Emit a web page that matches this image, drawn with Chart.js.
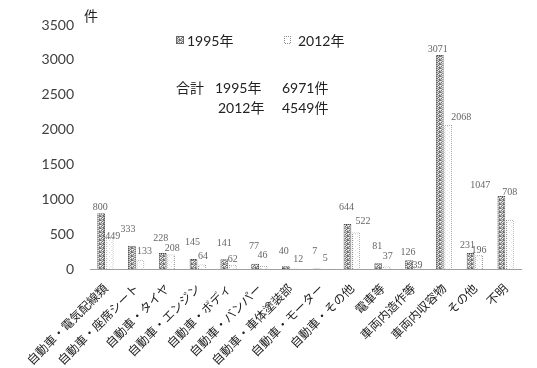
<!DOCTYPE html>
<html>
<head>
<meta charset="utf-8">
<script src="https://cdn.jsdelivr.net/npm/chart.js@4/dist/chart.umd.min.js"></script>
<style>
  html, body { margin: 0; padding: 0; background: #fff; }
  #wrap { width: 537px; height: 368px; }
</style>
</head>
<body>
<div id="wrap"><canvas id="c" width="537" height="368"></canvas></div>
<script>
// 件数（発火源別）
const categories = [
  '自動車・電気配線類', '自動車・座席シート', '自動車・タイヤ', '自動車・エンジン',
  '自動車・ボディ', '自動車・バンパー', '自動車・車体塗装部', '自動車・モーター',
  '自動車・その他', '電車等', '車両内造作等', '車両内収容物', 'その他', '不明'
];
const seriesNames = ['1995年', '2012年'];
const counts1995 = [800, 333, 228, 145, 141, 77, 40, 7, 644, 81, 126, 3071, 231, 1047];
const counts2012 = [449, 133, 208, 64, 62, 46, 12, 5, 522, 37, 39, 2068, 196, 708];
const yTickValues = [0, 500, 1000, 1500, 2000, 2500, 3000, 3500];

// value-label offsets (px) from the top centre of each bar
const labelNudge1995 = [[-1,-6],[-4,-16],[-2,-15],[-1,-17],[0,-16],[-1,-17],[-2,-15],[-2,-17],[-1,-17],[-1,-17],[-1,-8],[-2,-6],[-3,-8],[-21,-11]];
const labelNudge2012 = [[3,-1],[4,-8],[1,-6],[1,-8],[0,-5],[-1,-10],[4,-9],[0,-10],[7,-11],[1,-10],[0,-1],[13,-7],[0,-5],[0,-27]];

const total = arr => arr.reduce((a, b) => a + b, 0);

// fill textures
function makePattern(size, draw) {
  const cv = document.createElement('canvas');
  cv.width = size; cv.height = size;
  const g = cv.getContext('2d');
  draw(g);
  return g.createPattern(cv, 'repeat');
}
const ctx0 = document.getElementById('c').getContext('2d');
const stipple = makePattern(4, g => {
  g.fillStyle = '#cfcfcf'; g.fillRect(0, 0, 4, 4);
  g.fillStyle = '#6a6a6a';
  [[0,0],[2,1],[1,2],[3,3],[3,0]].forEach(p => g.fillRect(p[0], p[1], 1, 1));
  g.fillStyle = '#9a9a9a';
  [[1,0],[0,3],[2,3],[3,2]].forEach(p => g.fillRect(p[0], p[1], 1, 1));
  g.fillStyle = '#ffffff';
  [[2,2],[0,1]].forEach(p => g.fillRect(p[0], p[1], 1, 1));
});
const stippleEdge = makePattern(2, g => {
  g.fillStyle = '#4a4a4a'; g.fillRect(0, 0, 2, 2);
  g.fillStyle = '#9a9a9a'; g.fillRect(1, 0, 1, 1); g.fillRect(0, 1, 1, 1);
});
const lightFill = makePattern(4, g => {
  g.fillStyle = '#ffffff'; g.fillRect(0, 0, 4, 4);
  g.fillStyle = '#e4e4e4'; g.fillRect(1, 0, 1, 1); g.fillRect(3, 2, 1, 1);
});
const dottedEdge = makePattern(2, g => {
  g.fillStyle = '#ffffff'; g.fillRect(0, 0, 2, 2);
  g.fillStyle = '#8c8c8c'; g.fillRect(0, 0, 1, 1); g.fillRect(1, 1, 1, 1);
});

const mixFont = 'Lato, "Noto Sans CJK JP", sans-serif';

const overlayPlugin = {
  id: 'overlay',
  afterDatasetsDraw(chart) {
    const c = chart.ctx;
    c.save();
    // value labels
    c.font = '10px "Liberation Serif", serif';
    c.fillStyle = '#666';
    c.textAlign = 'center';
    c.textBaseline = 'middle';
    const nudges = [labelNudge1995, labelNudge2012];
    chart.data.datasets.forEach((ds, di) => {
      chart.getDatasetMeta(di).data.forEach((bar, i) => {
        const n = nudges[di][i];
        c.fillText(String(ds.data[i]), bar.x + n[0], bar.y + n[1]);
      });
    });

    // unit
    c.fillStyle = '#222';
    c.font = '14px "Noto Sans CJK JP", sans-serif';
    c.textAlign = 'left';
    c.fillText('件', 84, 16);

    // legend
    c.font = '14px ' + mixFont;
    c.fillStyle = stipple;
    c.fillRect(177, 37, 6, 6);
    c.strokeStyle = '#666'; c.lineWidth = 1;
    c.strokeRect(176.5, 36.5, 7, 7);
    c.fillStyle = '#222';
    c.fillText(seriesNames[0], 187, 41);
    c.strokeStyle = dottedEdge;
    c.strokeRect(284.5, 36.5, 6, 7);
    c.fillStyle = '#222';
    c.fillText(seriesNames[1], 298, 41);

    // totals
    c.fillText('合計', 176, 88);
    c.fillText(seriesNames[0], 215, 88);
    c.fillText(total(counts1995) + '件', 282, 88);
    c.fillText(seriesNames[1], 218, 108);
    c.fillText(total(counts2012) + '件', 282, 108);
    c.restore();
  }
};

new Chart(ctx0, {
  type: 'bar',
  data: {
    labels: categories,
    datasets: [
      {
        label: seriesNames[0], data: counts1995,
        backgroundColor: stipple, borderColor: stippleEdge, borderWidth: 1,
        categoryPercentage: 0.55, barPercentage: 0.92
      },
      {
        label: seriesNames[1], data: counts2012,
        backgroundColor: lightFill, borderColor: dottedEdge, borderWidth: 1,
        categoryPercentage: 0.55, barPercentage: 0.92
      }
    ]
  },
  options: {
    responsive: false,
    animation: false,
    devicePixelRatio: 1,
    layout: { padding: { top: 25, right: 16, left: 0, bottom: 0 } },
    plugins: { legend: { display: false }, tooltip: { enabled: false } },
    scales: {
      x: {
        grid: { display: false, drawTicks: false },
        border: { display: true, color: '#a0a0a0', width: 1, dash: [1, 2] },
        ticks: {
          autoSkip: false, minRotation: 45, maxRotation: 45, padding: 12,
          color: '#222', font: { family: '"Noto Sans CJK JP", sans-serif', size: 12 }
        },
        afterFit(scale) { scale.height = 99; }
      },
      y: {
        min: 0, max: 3500,
        grid: { display: false, drawTicks: false },
        border: { display: false },
        afterBuildTicks(scale) { scale.ticks = yTickValues.map(v => ({ value: v })); },
        ticks: {
          padding: 16, color: '#404040',
          font: { family: 'Lato, "Liberation Sans", sans-serif', size: 14 },
          callback: v => String(v)
        },
        afterFit(scale) { scale.width = 90; }
      }
    }
  },
  plugins: [overlayPlugin]
});
</script>
</body>
</html>
